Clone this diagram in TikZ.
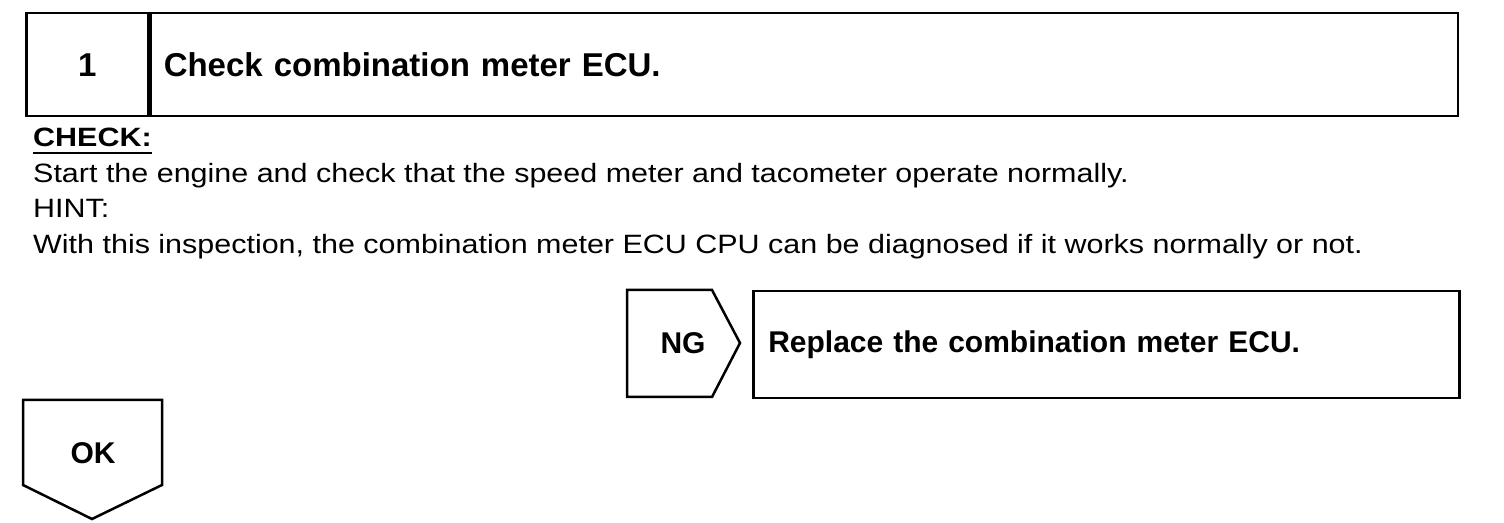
\documentclass[tikz,border=0pt]{standalone}
\usepackage{fontspec}
\setmainfont{Liberation Sans}
\newfontfamily\bodyfont[FakeStretch=1.15]{Liberation Sans}
\usetikzlibrary{positioning}

\begin{document}
\begin{tikzpicture}[x=1pt,y=1pt]

        \def\d{35.5pt}

        % boxes, headings and plain text lines
        \tikzset{
            frame/.style={draw, line width=2.5pt, inner sep=0pt},
            head/.style={font=\fontsize{30}{36}\selectfont\bfseries},
            body/.style={font=\bodyfont\fontsize{26.5}{32}\selectfont,
                anchor=base west, inner sep=0pt}
        }

        \useasboundingbox (0,0) rectangle (1504,522);

        % Step heading
        \begin{scope}[every node/.append style={line width=3.5pt,
                font=\fontsize{33}{38}\selectfont\bfseries}]
            \node (num) [frame, anchor=north west,
                minimum width=122, minimum height=103] at (25,510) {1};
            \node (title) [frame, anchor=north west, align=left,
                text width=1281, inner xsep=13, minimum height=103]
                at (num.north east) {Check combination meter ECU.};
        \end{scope}

        % Check and hint lines
        \node (check) [body, font=\bodyfont\fontsize{26.5}{32}\selectfont\bfseries]
            at (33,375) {CHECK:};
        \coordinate (ul1) at ([yshift=-6]check.base west);
        \coordinate (ul2) at ([yshift=-6]check.base east);
        \node (start) [body, below=\d of check.base west, anchor=base west]
            {Start the engine and check that the speed meter and tacometer operate normally.};
        \node (hint) [body, below=\d of start.base west, anchor=base west] {HINT:};
        \node (with) [body, below=\d of hint.base west, anchor=base west]
            {With this inspection, the combination meter ECU CPU can be diagnosed if it works normally or not.};

        % NG branch and OK exit
        \begin{scope}
            \coordinate (ng1) at (627,232);
            \coordinate (ng2) at (712,232);
            \coordinate (ng3) at (740,179);
            \coordinate (ng4) at (712,125);
            \coordinate (ng5) at (627,125);
            \node (ng) [head] at (683,179) {NG};
            \node (repl) [frame, head, anchor=north west, align=left,
                text width=676, inner xsep=15, minimum height=107]
                at (752,232) {Replace the combination meter ECU.};

            \coordinate (ok1) at (23,122);
            \coordinate (ok2) at (162,122);
            \coordinate (ok3) at (162,37);
            \coordinate (ok4) at (92,3);
            \coordinate (ok5) at (23,37);
            \node (ok) [head] at (93,69) {OK};
        \end{scope}

        \begin{scope}[line width=2.5pt, line join=miter]
            \draw (ng1) -- (ng2) -- (ng3) -- (ng4) -- (ng5) -- cycle;
            \draw (ok1) -- (ok2) -- (ok3) -- (ok4) -- (ok5) -- cycle;
            \draw[line width=2pt] (ul1) -- (ul2);
        \end{scope}

\end{tikzpicture}
\end{document}
